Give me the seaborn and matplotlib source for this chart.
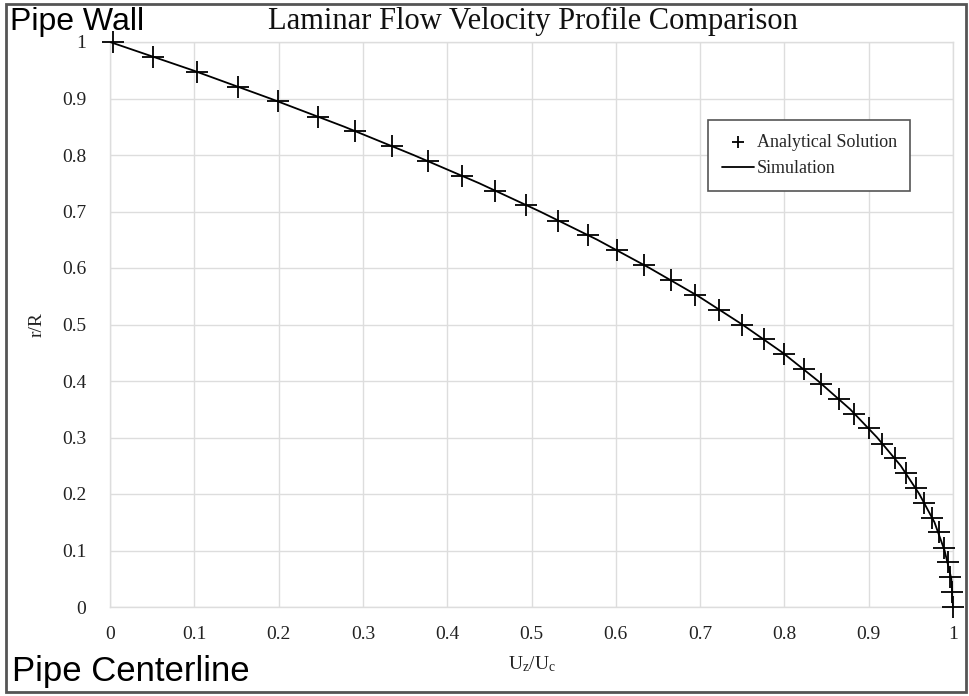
import matplotlib
matplotlib.use("Agg")
import matplotlib.pyplot as plt
import seaborn as sns
import pandas as pd
from matplotlib.patches import Rectangle

# ---- data ----
analytical_r = [1.0, 0.974, 0.947, 0.921, 0.895, 0.868, 0.842, 0.816, 0.789, 0.763,
                0.737, 0.711, 0.684, 0.658, 0.632, 0.605, 0.579, 0.553, 0.526, 0.5,
                0.474, 0.447, 0.421, 0.395, 0.368, 0.342, 0.316, 0.289, 0.263, 0.237,
                0.211, 0.184, 0.158, 0.132, 0.105, 0.079, 0.053, 0.026, 0.0]
analytical_u = [0.003, 0.051, 0.103, 0.152, 0.199, 0.247, 0.291, 0.334, 0.377, 0.418,
                0.457, 0.494, 0.532, 0.567, 0.601, 0.634, 0.665, 0.694, 0.723, 0.75,
                0.776, 0.800, 0.823, 0.844, 0.865, 0.883, 0.900, 0.916, 0.931, 0.944,
                0.956, 0.966, 0.975, 0.983, 0.989, 0.994, 0.997, 0.999, 1.0]

sim_r = [1.0, 0.95, 0.9, 0.85, 0.8, 0.75, 0.7, 0.65, 0.6, 0.55, 0.5, 0.45, 0.4,
         0.35, 0.3, 0.25, 0.2, 0.15, 0.1, 0.05, 0.0]
sim_u = [0.0, 0.098, 0.19, 0.278, 0.36, 0.438, 0.51, 0.578, 0.64, 0.698, 0.75,
         0.798, 0.84, 0.878, 0.91, 0.938, 0.96, 0.978, 0.99, 0.998, 1.0]

x_ticks = [0, 0.1, 0.2, 0.3, 0.4, 0.5, 0.6, 0.7, 0.8, 0.9, 1]
y_ticks = [0, 0.1, 0.2, 0.3, 0.4, 0.5, 0.6, 0.7, 0.8, 0.9, 1]
tick_labels = ["0", "0.1", "0.2", "0.3", "0.4", "0.5", "0.6", "0.7", "0.8", "0.9", "1"]

df_a = pd.DataFrame({"u": analytical_u, "r": analytical_r})
df_s = pd.DataFrame({"u": sim_u, "r": sim_r})

sns.set_theme(style="white")
plt.rcParams["font.family"] = ["Liberation Serif", "DejaVu Serif"]
plt.rcParams["mathtext.fontset"] = "custom"
plt.rcParams["mathtext.rm"] = "Liberation Serif"
plt.rcParams["mathtext.it"] = "Liberation Serif"

W, H = 970, 696
fig = plt.figure(figsize=(W / 100, H / 100), dpi=100)
fig.patch.set_facecolor("white")
ax = fig.add_axes([110 / W, 1 - 607 / H, 843 / W, 565 / H])

sns.lineplot(data=df_s, x="u", y="r", sort=False, estimator=None, color="black",
             linewidth=1.3, ax=ax, label="Simulation", zorder=3)
sns.scatterplot(data=df_a, x="u", y="r", marker="+", s=270, color="black",
                linewidth=1.3, ax=ax, label="Analytical Solution", zorder=4,
                clip_on=False)

ax.set_xlim(0, 1)
ax.set_ylim(0, 1)
ax.set_xticks(x_ticks)
ax.set_xticklabels(tick_labels)
ax.set_yticks(y_ticks)
ax.set_yticklabels(tick_labels)
ax.tick_params(axis="both", length=0, labelsize=14, colors="#222222")
ax.tick_params(axis="x", pad=14)
ax.tick_params(axis="y", pad=17)
ax.grid(True, color="#dddddd", linewidth=1)
for sp in ax.spines.values():
    sp.set_color("#dddddd")
    sp.set_linewidth(1)

ax.set_xlabel(r"U$_\mathregular{z}$/U$_\mathregular{c}$", fontsize=14, color="#222222", labelpad=8)
ax.set_ylabel("r/R", fontsize=14, color="#222222", labelpad=12)

handles, labels = ax.get_legend_handles_labels()
order = [labels.index("Analytical Solution"), labels.index("Simulation")]
leg = ax.legend([handles[i] for i in order], [labels[i] for i in order],
                loc="upper left", bbox_to_anchor=((708 - 110) / 843, (607 - 120) / 565),
                fontsize=13, frameon=True, fancybox=False, framealpha=1,
                edgecolor="#555555", handlelength=1.8, handletextpad=0.15,
                borderpad=0.75, labelspacing=0.55, borderaxespad=0, markerscale=0.55)
leg.get_frame().set_linewidth(1.2)

fig.text(533 / W, 1 - 21 / H, "Laminar Flow Velocity Profile Comparison",
         ha="center", va="center", fontsize=22, color="#111111")
fig.text(10 / W, 1 - 30 / H, "Pipe Wall", ha="left", va="baseline", fontsize=23,
         family=["Liberation Sans", "DejaVu Sans"], color="black")
fig.text(12 / W, 1 - 672 / H, "Pipe Centerline", ha="left", va="center", fontsize=25,
         family=["Liberation Sans", "DejaVu Sans"], color="black")

fig.add_artist(Rectangle((6 / W, 4 / H), 960 / W, 688 / H, transform=fig.transFigure,
                         fill=False, edgecolor="#555555", linewidth=2))

fig.savefig("out.png", dpi=100)
